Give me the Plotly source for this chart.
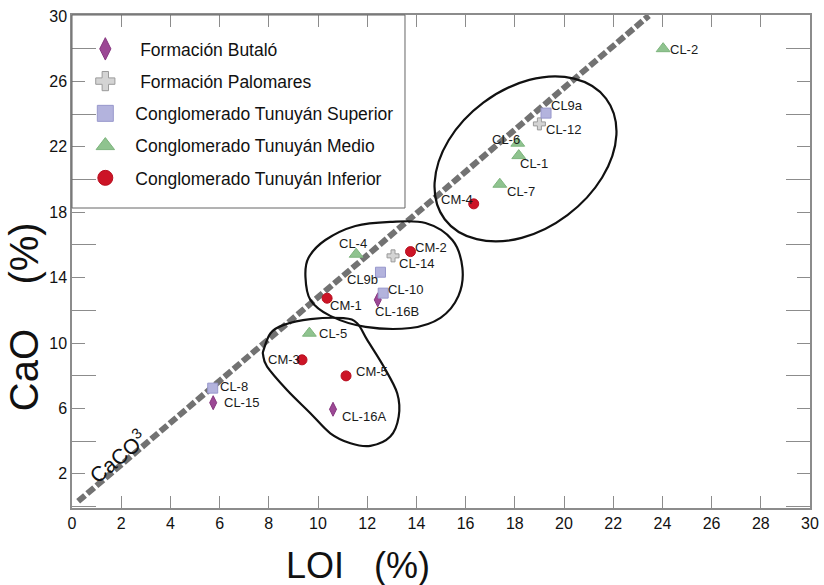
import plotly.graph_objects as go
import numpy as np

# ---------------- data ----------------
butalo_labels = ["CL-16B", "CL-16A", "CL-15"]
butalo_loi = [12.43, 10.61, 5.74]
butalo_cao = [12.64, 5.95, 6.35]

palomares_labels = ["CL-12", "CL-14"]
palomares_loi = [19.0, 13.05]
palomares_cao = [23.4, 15.33]

superior_labels = ["CL9a", "CL9b", "CL-10", "CL-8"]
superior_loi = [19.27, 12.54, 12.65, 5.72]
superior_cao = [24.06, 14.33, 13.05, 7.24]

medio_labels = ["CL-2", "CL-6", "CL-1", "CL-7", "CL-4", "CL-5"]
medio_loi = [24.03, 18.12, 18.16, 17.39, 11.55, 9.65]
medio_cao = [28.0, 22.22, 21.46, 19.71, 15.43, 10.6]

inferior_labels = ["CM-4", "CM-2", "CM-1", "CM-3", "CM-5"]
inferior_loi = [16.33, 13.76, 10.37, 9.35, 11.14]
inferior_cao = [18.51, 15.59, 12.74, 8.97, 7.99]

caco3_loi = [0.25, 23.45]
caco3_cao = [0.32, 30.02]

# outlines of the grouped samples (LOI, CaO)
group_upper = [(21.71, 24.95), (22.13, 22.73), (21.55, 20.12), (20.14, 17.82),
               (18.28, 16.43), (16.45, 16.35), (15.15, 17.57), (14.74, 19.79),
               (15.31, 22.40), (16.72, 24.70), (18.59, 26.09), (20.41, 26.17)]
group_middle = [(9.49, 14.04), (9.69, 12.64), (10.50, 11.66), (11.93, 10.99),
                (13.76, 10.92), (14.98, 11.54), (15.71, 12.88), (15.87, 14.59),
                (15.46, 16.30), (14.37, 17.34), (12.94, 17.41), (11.52, 17.16),
                (10.30, 16.30), (9.61, 15.20)]
group_lower = [(7.79, 9.58), (8.07, 10.60), (8.61, 11.11), (9.69, 11.46),
               (11.04, 11.52), (11.59, 11.21), (12.0, 10.19), (12.67, 8.56),
               (13.22, 6.93), (13.28, 5.50), (12.94, 4.28), (12.13, 3.71),
               (11.32, 3.87), (10.50, 4.48), (9.69, 5.71), (8.74, 7.13),
               (7.93, 8.56), (7.77, 9.27)]

x_ticks = list(range(0, 31, 2))
y_ticks = list(range(2, 31, 4))

# label offsets in pixels (right, up) relative to each marker
label_offsets = {
    "CL-2": (21, -1), "CL9a": (21, 8), "CL-12": (24, -6), "CL-6": (-12, 4),
    "CL-1": (15, -8), "CL-7": (21, -7), "CM-4": (-17, 4), "CL-4": (-3, 11),
    "CM-2": (20, 4), "CL-14": (23, -8), "CL9b": (-18, -7), "CL-10": (22, 4),
    "CL-16B": (19, -12), "CM-1": (19, -7), "CL-5": (24, 0), "CM-3": (-18, 0),
    "CM-5": (26, 4), "CL-16A": (31, -7), "CL-8": (21, 2), "CL-15": (28, 0),
}


def closed_spline_path(pts):
    p = np.array(pts, dtype=float)
    n = len(p)
    d = "M {:.3f},{:.3f}".format(*p[0])
    for i in range(n):
        p0, p1, p2, p3 = p[i - 1], p[i], p[(i + 1) % n], p[(i + 2) % n]
        c1 = p1 + (p2 - p0) / 6.0
        c2 = p2 - (p3 - p1) / 6.0
        d += " C {:.3f},{:.3f} {:.3f},{:.3f} {:.3f},{:.3f}".format(c1[0], c1[1], c2[0], c2[1], p2[0], p2[1])
    return d + " Z"


FONT = "Liberation Sans, Arial, sans-serif"
fig = go.Figure()

fig.add_trace(go.Scatter(x=caco3_loi, y=caco3_cao, mode="lines",
                         line=dict(color="#727272", width=6, dash="9px,3px"),
                         showlegend=False, hoverinfo="skip"))

series = [
    ("\u00a0Formación Butaló", butalo_loi, butalo_cao, butalo_labels,
     dict(symbol="diamond-tall", color="#9c4895", line=dict(color="#86367f", width=1)), 10, 16),
    ("\u00a0Formación Palomares", palomares_loi, palomares_cao, palomares_labels,
     dict(symbol="cross", color="#d4d4d4", line=dict(color="#9a9a9a", width=1)), 10, 16),
    ("Conglomerado Tunuyán Superior", superior_loi, superior_cao, superior_labels,
     dict(symbol="square", color="#b3b3dd", line=dict(color="#9898cc", width=1)), 10, 16),
    ("Conglomerado Tunuyán Medio", medio_loi, medio_cao, medio_labels,
     dict(symbol="triangle-up", color="#8fc38f", line=dict(color="#7db47d", width=1)), 12, 16),
    ("Conglomerado Tunuyán Inferior", inferior_loi, inferior_cao, inferior_labels,
     dict(symbol="circle", color="#cc1426", line=dict(color="#b80f20", width=1)), 10, 15),
]

annotations = []
for i, (name, xs, ys, labs, mk, size, lsize) in enumerate(series):
    fig.add_trace(go.Scatter(x=xs, y=ys, mode="markers", text=labs,
                             marker=dict(size=size, **mk), name=name, legendgroup="g%d" % i,
                             showlegend=False))
    fig.add_trace(go.Scatter(x=[None], y=[None], mode="markers", name=name,
                             legendgroup="g%d" % i, marker=dict(size=lsize, **mk),
                             showlegend=True))
    for xv, yv, lab in zip(xs, ys, labs):
        dx, dy = label_offsets[lab]
        annotations.append(dict(text=lab, x=xv, y=yv, xref="x", yref="y", xshift=dx, yshift=dy,
                                xanchor="center", yanchor="middle", showarrow=False,
                                font=dict(size=13, color="#1a1a1a", family=FONT)))

shapes = []
for outline in (group_upper, group_middle, group_lower):
    shapes.append(dict(type="path", path=closed_spline_path(outline), xref="x", yref="y",
                       line=dict(color="#111111", width=2.2), fillcolor="rgba(0,0,0,0)"))
# legend frame
shapes.append(dict(type="rect", xref="paper", yref="paper", x0=0, x1=0.4512, y0=0.6085, y1=1,
                   line=dict(color="#666666", width=1), fillcolor="rgba(0,0,0,0)"))

annotations += [
    dict(text="LOI\u00a0\u00a0\u00a0(%)", xref="paper", yref="paper", x=0.388, y=-0.116,
         xanchor="center", yanchor="middle", showarrow=False,
         font=dict(size=36, color="#111", family=FONT)),
    dict(text="CaO\u00a0\u00a0\u00a0\u00a0(%)", xref="paper", yref="paper", x=-0.0650, y=0.387,
         xanchor="center", yanchor="middle", showarrow=False, textangle=-90,
         font=dict(size=40, color="#111", family=FONT)),
    dict(text="CaCO<sup>3</sup>", xref="x", yref="y", x=1.85, y=3.1, textangle=-40,
         xanchor="center", yanchor="middle", showarrow=False,
         font=dict(size=21, color="#111", family=FONT)),
]

axis_common = dict(showgrid=False, zeroline=False, showline=True, linecolor="#8c8c8c",
                   linewidth=1.5, mirror="ticks", ticks="inside", tickcolor="#8c8c8c",
                   tickwidth=1, automargin=False,
                   tickfont=dict(size=16, color="#111", family=FONT))

fig.update_layout(
    width=824, height=585,
    margin=dict(l=72, r=14, t=15, b=77),
    paper_bgcolor="white", plot_bgcolor="white",
    font=dict(family=FONT),
    xaxis=dict(range=[0, 30], tickvals=x_ticks, ticklen=12, **axis_common),
    yaxis=dict(range=[-0.09, 30.06], tickvals=y_ticks, ticklen=13,
               minor=dict(tick0=0, dtick=4, ticklen=24, ticks="inside", tickcolor="#8c8c8c"),
               **axis_common),
    legend=dict(x=0.0045, y=0.9676, xanchor="left", yanchor="top", bgcolor="rgba(255,255,255,0)",
                borderwidth=0, font=dict(size=17.5, color="#111", family=FONT),
                itemwidth=50, tracegroupgap=6.5, traceorder="grouped"),
    shapes=shapes, annotations=annotations,
)

fig.write_html("out.html")
